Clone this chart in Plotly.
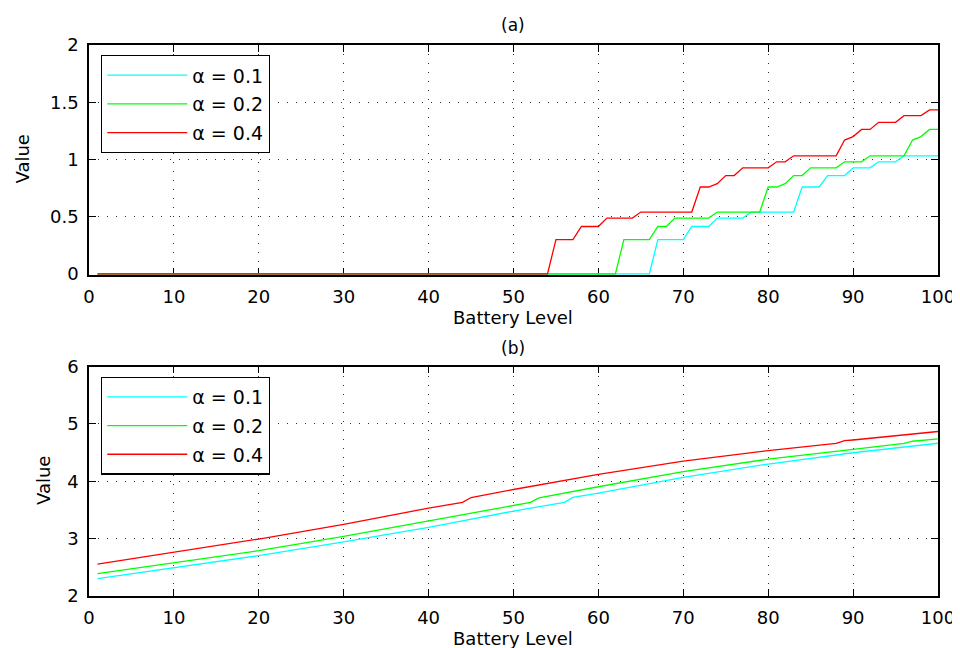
import plotly.graph_objects as go

# ---------------- data ----------------
series_names = ["α = 0.1", "α = 0.2", "α = 0.4"]
series_colors = ["#00FFFF", "#00FF00", "#FF0000"]

# (a) top panel – breakpoints of the stepped curves
a_x_01 = [1, 66, 67, 70, 71, 73, 74, 77, 78, 83, 84, 86, 87, 89, 90, 92, 93, 95, 96, 100]
a_y_01 = [0, 0, 0.30, 0.30, 0.415, 0.415, 0.488, 0.488, 0.541, 0.541, 0.76, 0.76,
          0.86, 0.86, 0.927, 0.927, 0.98, 0.98, 1.032, 1.032]
a_x_02 = [1, 62, 63, 66, 67, 68, 69, 73, 74, 79, 80, 81, 82, 83, 84, 85, 88, 89, 91, 92,
          96, 97, 98, 99, 100]
a_y_02 = [0, 0, 0.30, 0.30, 0.415, 0.415, 0.488, 0.488, 0.541, 0.541, 0.76, 0.76, 0.789,
          0.86, 0.86, 0.927, 0.927, 0.98, 0.98, 1.032, 1.032, 1.17, 1.20, 1.263, 1.263]
a_x_04 = [1, 54, 55, 57, 58, 60, 61, 64, 65, 71, 72, 73, 74, 75, 76, 77, 80, 81, 82, 83,
          88, 89, 90, 91, 92, 93, 95, 96, 98, 99, 100]
a_y_04 = [0, 0, 0.30, 0.30, 0.415, 0.415, 0.488, 0.488, 0.541, 0.541, 0.76, 0.76, 0.789,
          0.86, 0.86, 0.927, 0.927, 0.98, 0.98, 1.032, 1.032, 1.17, 1.20, 1.263, 1.263,
          1.325, 1.325, 1.383, 1.383, 1.433, 1.433]

# (b) bottom panel – read points
b_x_01 = [1, 10, 20, 30, 40, 50, 56, 57, 60, 70, 80, 90, 100]
b_y_01 = [2.30, 2.484, 2.70, 2.94, 3.194, 3.478, 3.63, 3.716, 3.79, 4.066, 4.30, 4.497, 4.663]
b_x_02 = [1, 10, 20, 30, 40, 50, 52, 53, 60, 70, 80, 90, 96, 97, 100]
b_y_02 = [2.385, 2.57, 2.787, 3.035, 3.303, 3.576, 3.63, 3.708, 3.903, 4.166, 4.385, 4.557,
          4.662, 4.698, 4.74]
b_x_04 = [1, 10, 20, 30, 40, 44, 45, 50, 60, 70, 80, 88, 89, 90, 100]
b_y_04 = [2.55, 2.76, 2.99, 3.245, 3.53, 3.63, 3.715, 3.855, 4.12, 4.35, 4.535, 4.662,
          4.708, 4.72, 4.868]

x_ticks = [0, 10, 20, 30, 40, 50, 60, 70, 80, 90, 100]
a_y_ticks = [0, 0.5, 1, 1.5, 2]
b_y_ticks = [2, 3, 4, 5, 6]

# ---------------- figure ----------------
# page body has an 8px default margin, so the figure is 952x640 and
# positions are given in window pixels minus that offset
OFF = 8
W, H = 960 - OFF, 648 - OFF


def px(x):
    return (x - OFF) / W


def py(y):
    return 1 - (y - OFF) / H


FONT = "DejaVu Sans"
fig = go.Figure()

top = [(a_x_01, a_y_01), (a_x_02, a_y_02), (a_x_04, a_y_04)]
bot = [(b_x_01, b_y_01), (b_x_02, b_y_02), (b_x_04, b_y_04)]

for i, (xs, ys) in enumerate(top):
    fig.add_trace(go.Scatter(x=xs, y=ys, mode="lines", name=series_names[i],
                             line=dict(color=series_colors[i], width=1.3),
                             xaxis="x", yaxis="y", legend="legend",
                             legendgroup="a%d" % i))
for i, (xs, ys) in enumerate(bot):
    fig.add_trace(go.Scatter(x=xs, y=ys, mode="lines", name=series_names[i],
                             line=dict(color=series_colors[i], width=1.3),
                             xaxis="x2", yaxis="y2", legend="legend2",
                             legendgroup="b%d" % i))

xd = [px(89), px(938)]
top_dom = [py(274.7), py(45)]
bot_dom = [py(595.7), py(366.7)]

axis_common = dict(
    showline=True, linecolor="black", linewidth=1.5, mirror="ticks",
    ticks="inside", ticklen=7, tickwidth=1.2, tickcolor="black",
    showgrid=True, gridcolor="#333333", gridwidth=1, griddash="1px,8px",
    zeroline=False, tickfont=dict(family=FONT, size=18, color="black"),
    automargin=False, ticklabelstandoff=5, layer="below traces",
)

legend_common = dict(xanchor="left", yanchor="top",
                     bgcolor="white", bordercolor="black", borderwidth=1.3,
                     font=dict(family=FONT, size=19, color="black"),
                     itemwidth=80, tracegroupgap=1)

fig.update_layout(
    width=W, height=H,
    margin=dict(l=0, r=0, t=0, b=0),
    paper_bgcolor="white", plot_bgcolor="white",
    font=dict(family=FONT, color="black"),
    showlegend=True,
    xaxis=dict(domain=xd, anchor="y", range=[0, 100], tickvals=x_ticks, **axis_common),
    yaxis=dict(domain=top_dom, anchor="x", range=[-0.006, 2], tickvals=a_y_ticks, **axis_common),
    xaxis2=dict(domain=xd, anchor="y2", range=[0, 100], tickvals=x_ticks, **axis_common),
    yaxis2=dict(domain=bot_dom, anchor="x2", range=[2, 6], tickvals=b_y_ticks, **axis_common),
    legend=dict(x=px(101), y=py(55), **legend_common),
    legend2=dict(x=px(101), y=py(376.7), **legend_common),
)

ann_font = dict(family=FONT, size=18, color="black")
title_font = dict(family=FONT, size=17, color="black")
annotations = [
    dict(text="(a)", x=px(513), y=py(25), font=title_font),
    dict(text="(b)", x=px(513), y=py(347.5), font=title_font),
    dict(text="Battery Level", x=px(513), y=py(317), font=ann_font),
    dict(text="Battery Level", x=px(513), y=py(638), font=ann_font),
    dict(text="Value", x=px(22), y=py(159.5), textangle=-90, font=ann_font),
    dict(text="Value", x=px(43), y=py(481), textangle=-90, font=ann_font),
]
for a in annotations:
    a.update(xref="paper", yref="paper", showarrow=False, xanchor="center", yanchor="middle")
fig.update_layout(annotations=annotations)

fig.write_html("out.html")
